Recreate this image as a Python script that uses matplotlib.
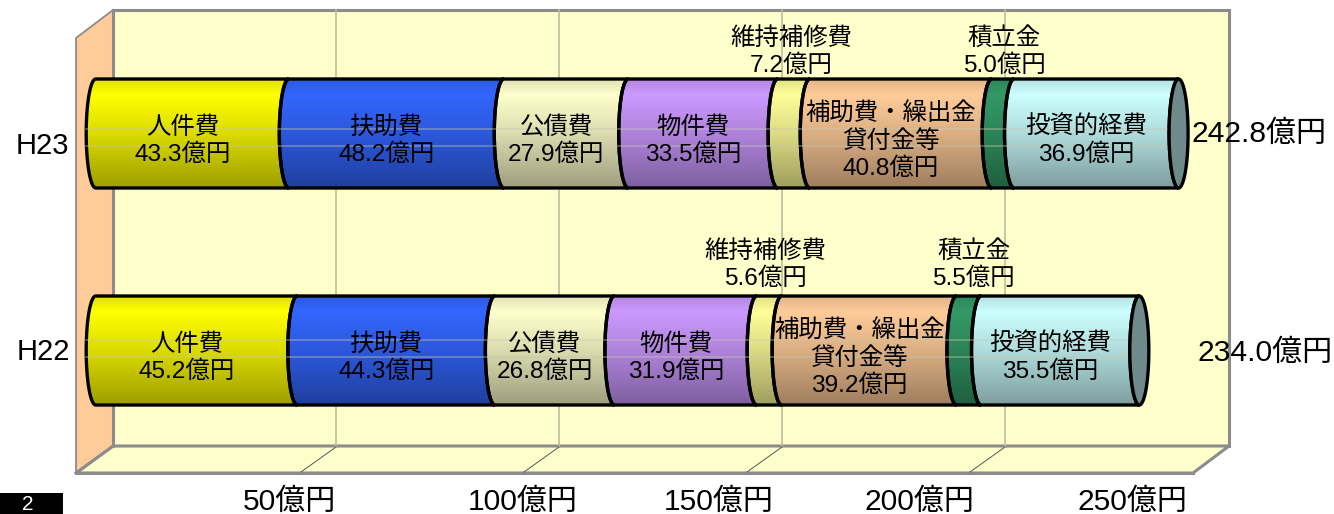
import numpy as np
import matplotlib
matplotlib.use("Agg")
import matplotlib.pyplot as plt
from matplotlib.patches import Polygon, PathPatch, Rectangle
from matplotlib.path import Path

plt.rcParams['font.family'] = ['Liberation Sans', 'Noto Sans CJK JP', 'DejaVu Sans']

# ================================
# Data (億円)
# ================================
years = ["H23", "H22"]
items = ["人件費", "扶助費", "公債費", "物件費", "維持補修費",
         "補助費・繰出金\n貸付金等", "積立金", "投資的経費"]
values_h23 = [43.3, 48.2, 27.9, 33.5, 7.2, 40.8, 5.0, 36.9]
values_h22 = [45.2, 44.3, 26.8, 31.9, 5.6, 39.2, 5.5, 35.5]
totals = [242.8, 234.0]
ticks = [50, 100, 150, 200, 250]
colors = ["#ffff00", "#3366ff", "#ffffcc", "#cc99ff", "#ffff99",
          "#ffcc99", "#339966", "#ccffff"]

W, H = 1334, 514
PX_PER_UNIT = 4.46
X0 = 95.7          # pixel where the value 0 sits on the bar centre line
RX = 9.5 / PX_PER_UNIT  # ellipse half width, in value units
bar_tops = [79, 296]
bar_h = 109
wall_lines = [(50, 67), (44, 61)]  # offsets from the bar top
outside_y = [52, 265]
total_px = [1192, 1198]
total_y = [134, 353]

fig = plt.figure(figsize=(W / 100, H / 100), dpi=100)

# pixel axes for the frame
bg = fig.add_axes([0, 0, 1, 1])
bg.set_xlim(0, W)
bg.set_ylim(H, 0)
bg.axis("off")

# value axes, same pixel grid
ax = fig.add_axes([0, 0, 1, 1], zorder=2)
ax.patch.set_alpha(0)
ax.set_xlim(-X0 / PX_PER_UNIT, (W - X0) / PX_PER_UNIT)
ax.set_ylim(H, 0)
ax.axis("off")

# ================================
# 3D frame
# ================================
frame = "#8c8c8c"
bg.add_patch(Polygon([(113, 10), (1229, 10), (1229, 446), (113, 446)],
                     fc="#ffffcc", ec=frame, lw=2.2))
bg.add_patch(Polygon([(76, 473), (113, 446), (1229, 446), (1193, 473)],
                     fc="#ffffcc", ec=frame, lw=2.2))
bg.add_patch(Polygon([(76, 38), (113, 10), (113, 446), (76, 473)],
                     fc="#ffcc99", ec=frame, lw=1.3))
bg.plot([76, 113], [473, 446], color=frame, lw=2.2)
bg.plot([76, 1193], [473, 473], color=frame, lw=2.2)
bg.plot([113, 113], [10, 446], color=frame, lw=2.2)

for t in ticks[:-1]:
    gx = 113 + t * PX_PER_UNIT
    bg.plot([gx, gx], [10, 446], color="#bdbd9a", lw=1.2)
    bg.plot([gx, gx - 35], [447, 472], color="#555555", lw=0.7)


def grad_image(color):
    # bright band near the top, darkening to the bottom
    c = np.array(matplotlib.colors.to_rgb(color))
    pos = np.linspace(0, 1, 109)
    shade = np.interp(pos, [0, 0.14, 0.5, 1], [0.88, 1.0, 0.86, 0.62])
    return np.clip(c[None, None, :] * shade[:, None, None], 0, 1)


def segment_path(x1, x2, top, h):
    cy = top + h / 2
    t = np.linspace(np.pi / 2, -np.pi / 2, 40)
    # right side: left half of the ellipse at x2
    xs_r = x2 - RX * np.cos(t)
    ys_r = cy - h / 2 * np.sin(t)
    # left side: left half of the ellipse at x1
    xs_l = x1 - RX * np.cos(t[::-1])
    ys_l = cy - h / 2 * np.sin(t[::-1])
    pts = np.column_stack([np.r_[xs_r, xs_l], np.r_[ys_r, ys_l]])
    return Path(np.vstack([pts, pts[0]]), closed=True)


# ================================
# Bars
# ================================
all_values = [values_h23, values_h22]
for row, vals in enumerate(all_values):
    top = bar_tops[row]
    left = 0.0
    for i, v in enumerate(vals):
        right = left + v
        path = segment_path(left, right, top, bar_h)
        im = ax.imshow(grad_image(colors[i]), extent=(left - 3, right + 3, top + bar_h, top),
                       aspect="auto", interpolation="bilinear", zorder=3)
        patch = PathPatch(path, fc="none", ec="none", transform=ax.transData)
        ax.add_patch(patch)
        im.set_clip_path(patch)
        ax.add_patch(PathPatch(path, fc="none", ec="black", lw=2.4, zorder=4))
        left = right
    # end cap
    t = np.linspace(0, 2 * np.pi, 80)
    cy = top + bar_h / 2
    ax.fill(left + RX * np.cos(t), cy + bar_h / 2 * np.sin(t),
            fc="#6f8a8a", ec="black", lw=2.4, zorder=5)
    # faint lines of the wall that show through the bar
    for dy in wall_lines[row]:
        ax.plot([-RX, left - RX], [top + dy, top + dy], color="#c8c8b0",
                alpha=0.45, lw=1.2, zorder=4.5)

# ================================
# Labels
# ================================
outside_dx = {(0, 4): -0.6, (0, 6): 0.3, (1, 4): -0.8, (1, 6): 1.1}
for row, vals in enumerate(all_values):
    top = bar_tops[row]
    cum = np.cumsum([0] + vals)
    for i, v in enumerate(vals):
        mid = cum[i] + v / 2
        label = items[i] + "\n" + f"{v:.1f}億円"
        if i in (4, 6):
            ax.text(mid + outside_dx[(row, i)], outside_y[row], label, ha="center", va="center",
                    fontsize=17.6, linespacing=1.26, zorder=6)
        else:
            ax.text(mid - 2.2, top + 62, label, ha="center", va="center",
                    fontsize=17.6, linespacing=1.26, zorder=6)

bg.text(42, 145.5, years[0], ha="center", va="center", fontsize=21, zorder=6)
bg.text(43, 352.5, years[1], ha="center", va="center", fontsize=21, zorder=6)
for total, px, py in zip(totals, total_px, total_y):
    # these sit on top of the wall edge
    ax.text((px - X0) / PX_PER_UNIT, py, f"{total:.1f}億円", ha="left", va="center",
            fontsize=21.6, zorder=6)

tick_px = [289, 523, 719, 919, 1132]
for t, px in zip(ticks, tick_px):
    bg.text(px, 501.5, f"{t}億円", ha="center", va="center", fontsize=21.6)

# page number box at the image edge
bg.add_patch(Rectangle((0, 493), 63, 21, fc="black", ec="none"))
bg.text(28, 509.5, "2", color="white", ha="center", va="baseline", fontsize=15)

fig.savefig("out.png", dpi=100)
plt.close(fig)
